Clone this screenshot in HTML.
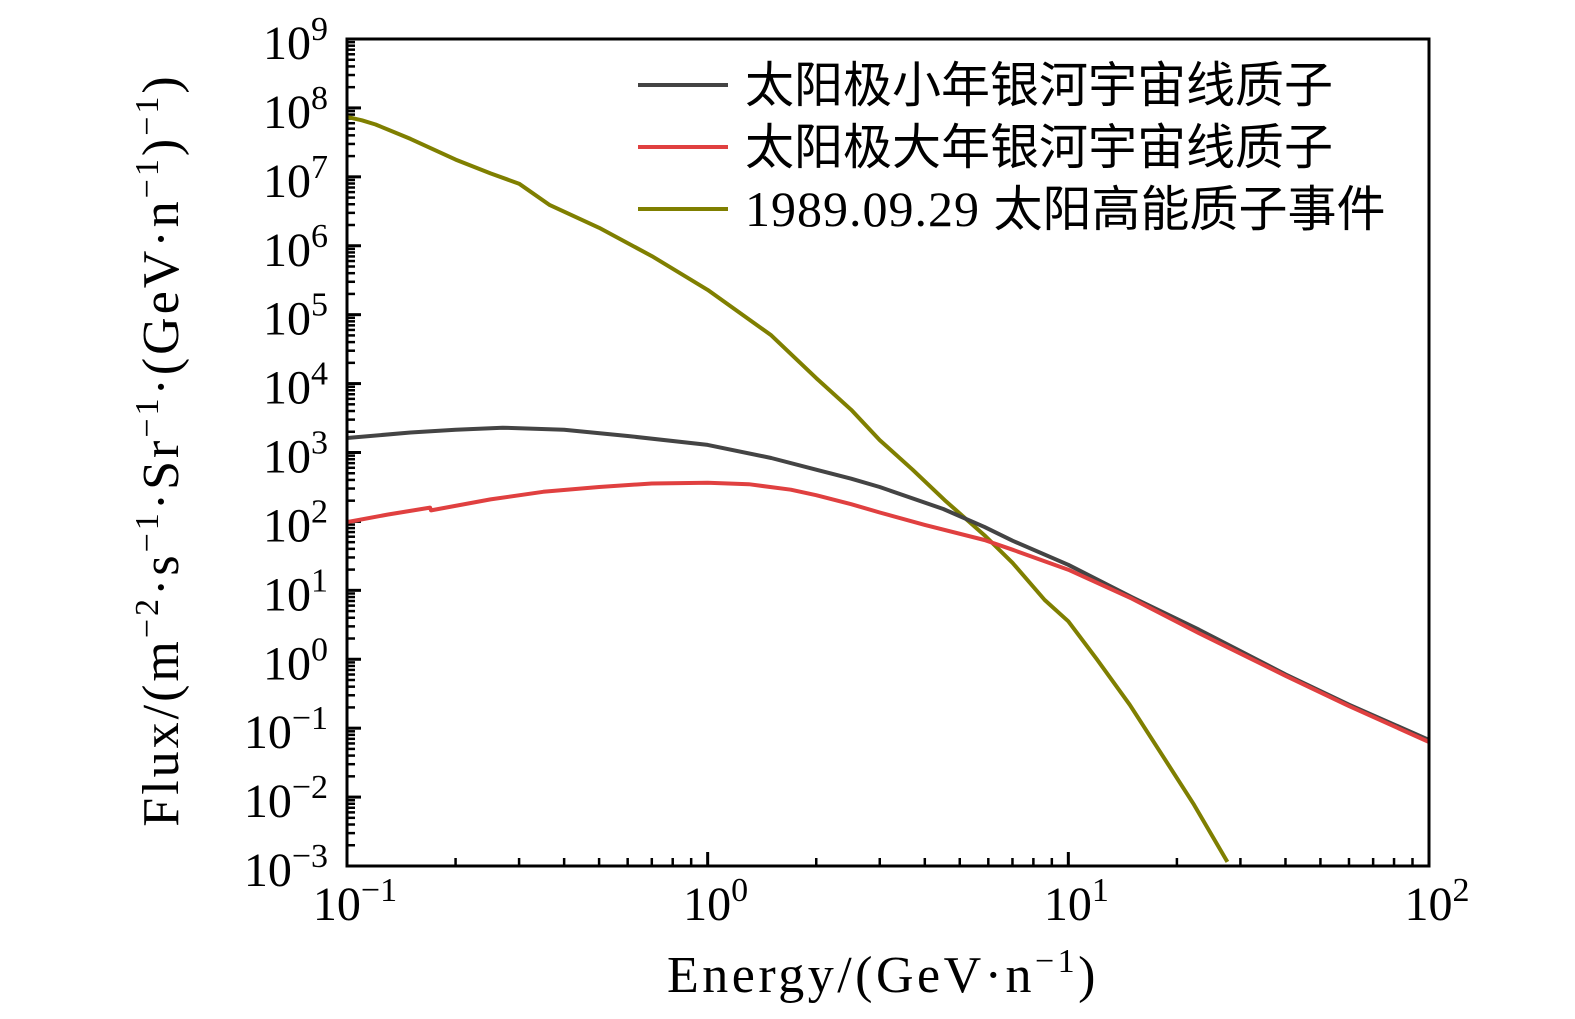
<!DOCTYPE html>
<html><head><meta charset="utf-8"><style>
body{margin:0;background:#fff}
svg text{font-family:"Liberation Serif","Noto Serif CJK SC",serif;fill:#000}
</style></head><body>
<svg id="chart" width="1575" height="1014" xmlns="http://www.w3.org/2000/svg">
<g id="ticks"></g>
<g id="series"></g>
<rect x="347" y="39" width="1082" height="827" fill="none" stroke="#000" stroke-width="3"/>
<g font-size="49">
<line x1="638" y1="85" x2="728" y2="85" stroke="#444" stroke-width="4"/>
<text x="745" y="102" style="font-family:'Noto Sans CJK SC',sans-serif">太阳极小年银河宇宙线质子</text>
<line x1="638" y1="147" x2="728" y2="147" stroke="#e04040" stroke-width="4"/>
<text x="745" y="164" style="font-family:'Noto Sans CJK SC',sans-serif">太阳极大年银河宇宙线质子</text>
<line x1="638" y1="209" x2="728" y2="209" stroke="#7f7f00" stroke-width="4"/>
<text x="745" y="226"><tspan font-size="50" letter-spacing="1">1989.09.29 </tspan><tspan style="font-family:'Noto Sans CJK SC',sans-serif">太阳高能质子事件</tspan></text>
</g>
<text x="883" y="992" font-size="52" letter-spacing="3.5" text-anchor="middle">Energy/(GeV·n<tspan dy="-20" font-size="34">−1</tspan><tspan dy="20">)</tspan></text>
<text transform="translate(178,450) rotate(-90)" font-size="52" letter-spacing="3" text-anchor="middle">Flux/(m<tspan dy="-20" font-size="34">−2</tspan><tspan dy="20">·s</tspan><tspan dy="-20" font-size="34">−1</tspan><tspan dy="20">·Sr</tspan><tspan dy="-20" font-size="34">−1</tspan><tspan dy="20">·(GeV·n</tspan><tspan dy="-20" font-size="34">−1</tspan><tspan dy="20">)</tspan><tspan dy="-20" font-size="34">−1</tspan><tspan dy="20">)</tspan></text>
</svg>
<script>
const xDecades=[-1,0,1,2];
const yDecades=[-3,-2,-1,0,1,2,3,4,5,6,7,8,9];
const minE=[0.1,0.15,0.2,0.27,0.4,0.6,1,1.5,2,2.5,3,4.5,5.85,7,10,15,23,40,60,100];
const minF=[3.21,3.29,3.33,3.36,3.33,3.24,3.11,2.92,2.75,2.62,2.5,2.18,1.92,1.72,1.37,0.9,0.43,-0.22,-0.66,-1.17];
const maxE=[0.1,0.13,0.17,0.171,0.25,0.35,0.5,0.7,1,1.3,1.7,2,2.5,3,4,5.85,7,10,15,23,40,60,100];
const maxF=[1.99,2.1,2.2,2.16,2.32,2.43,2.5,2.55,2.56,2.54,2.46,2.38,2.25,2.13,1.95,1.73,1.59,1.3,0.88,0.38,-0.24,-0.68,-1.2];
const speE=[0.1,0.11,0.12,0.15,0.2,0.25,0.3,0.365,0.5,0.7,1,1.5,2,2.5,3,3.7,4.54,5.85,7,8.6,10,12,14.8,18,22.3,27.6];
const speF=[7.87,7.82,7.76,7.55,7.25,7.05,6.9,6.59,6.26,5.85,5.36,4.7,4.08,3.62,3.18,2.75,2.31,1.8,1.4,0.86,0.55,0.0,-0.66,-1.35,-2.11,-2.94];
const X0=347,X1=1429,Y0=866,Y1=39;
const xs=e=>X0+(Math.log10(e)+1)/3*(X1-X0);
const yv=v=>Y0-(v+3)/12*(Y0-Y1);
const NS="http://www.w3.org/2000/svg";
const tk=document.getElementById('ticks');
function mk(tag,attrs,parent){const el=document.createElementNS(NS,tag);for(const k in attrs)el.setAttribute(k,attrs[k]);parent.appendChild(el);return el;}
xDecades.forEach(d=>{
  const x=xs(Math.pow(10,d));
  const l=mk('line',{x1:x,x2:x,y1:Y0,y2:Y0-14,stroke:'#000','stroke-width':3},tk);
  
  
  const t=mk('text',{x:x+8,y:920,'font-size':48,'text-anchor':'middle'},tk);
  
  
  t.innerHTML='10<tspan dy="-19" font-size="34">'+(d<0?'−'+(-d):d)+'</tspan>';
  if(d<2)for(let m=2;m<10;m++){const xm=xs(m*Math.pow(10,d));
    const mt=mk('line',{x1:xm,x2:xm,y1:Y0,y2:Y0-8,stroke:'#000','stroke-width':2.5},tk);
    
    }
});
yDecades.forEach(d=>{
  const y=yv(d);
  const l=mk('line',{x1:X0,x2:X0+14,y1:y,y2:y,stroke:'#000','stroke-width':3},tk);
  
  
  const t=mk('text',{x:328,y:y+20,'font-size':48,'text-anchor':'end'},tk);
  
  
  t.innerHTML='10<tspan dy="-19" font-size="34">'+(d<0?'−'+(-d):d)+'</tspan>';
  if(d<9)for(let m=2;m<10;m++){const ym=yv(d+Math.log10(m));
    const mt=mk('line',{x1:X0,x2:X0+8,y1:ym,y2:ym,stroke:'#000','stroke-width':2.5},tk);
    
    }
});
const sg=document.getElementById('series');
function line(E,F,color,name){
  const d=E.map((e,i)=>(i?'L':'M')+xs(e).toFixed(1)+','+yv(F[i]).toFixed(1)).join(' ');
  const p=mk('path',{d:d,fill:'none',stroke:color,'stroke-width':4,'stroke-linejoin':'round'},sg);
  
  
}
line(speE,speF,'#7f7f00','line-solar-particle-event');
line(minE,minF,'#444444','line-solar-min-gcr');
line(maxE,maxF,'#e04040','line-solar-max-gcr');
</script>
</body></html>
